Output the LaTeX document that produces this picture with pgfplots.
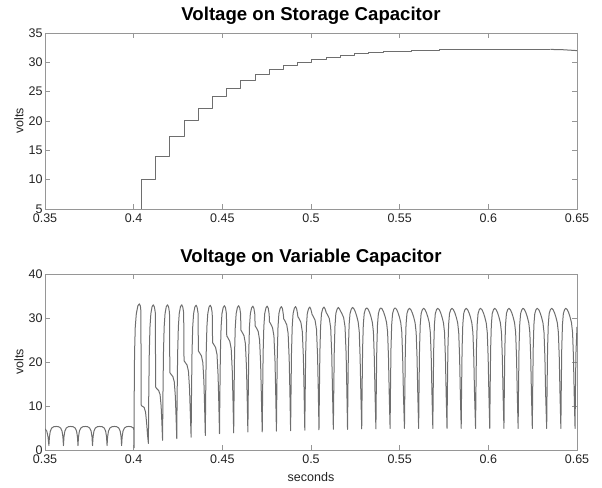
\documentclass[border=0pt]{standalone}
\usepackage{fontspec}
\setmainfont{Liberation Sans}
\usepackage{pgfplots}
\pgfplotsset{compat=1.18}
\definecolor{linec}{RGB}{110,110,110}
\definecolor{framec}{RGB}{150,150,150}
\definecolor{labc}{RGB}{35,35,35}
\begin{document}
\begin{tikzpicture}
\useasboundingbox (0pt,0pt) rectangle (602pt,487pt);
\pgfplotsset{
  mystyle/.style={
    scale only axis, width=532pt, height=176pt,
    xmin=0.35, xmax=0.65,
    xtick={0.35,0.4,0.45,0.5,0.55,0.6,0.65},
    xticklabels={0.35,0.4,0.45,0.5,0.55,0.6,0.65},
    tick align=inside, major tick length=5pt,
    axis line style={draw=framec, line width=0.9pt},
    every tick/.style={framec, line width=0.9pt},
    tick label style={font=\fontsize{12.5}{13}\selectfont, text=labc},
    xticklabel style={yshift=-1pt},
    yticklabel style={xshift=1pt},
    title style={font=\bfseries\fontsize{18.6}{19}\selectfont, at={(0.5,1)}, anchor=base, yshift=6pt},
    ylabel style={font=\fontsize{12.5}{13}\selectfont, text=labc, at={(axis description cs:-0.049,0.5)}, anchor=center},
    xlabel style={font=\fontsize{12.5}{13}\selectfont, text=labc, at={(axis description cs:0.5,0)}, anchor=center, yshift=-27pt},
  },
  myline/.style={linec, line width=1pt, line join=round, no markers},
}
\begin{axis}[mystyle, at={(45pt,278pt)}, anchor=south west,
  ymin=5, ymax=35,
  ytick={5,10,15,20,25,30,35}, yticklabels={5,10,15,20,25,30,35},
  title={Voltage on Storage Capacitor}, ylabel={volts}]
\addplot[myline, const plot mark left] coordinates {
(0.4000,0) (0.4043,10.0) (0.4123,14.0) (0.4203,17.3) (0.4284,20.0)
(0.4364,22.2) (0.4444,24.1) (0.4524,25.6) (0.4604,26.9) (0.4685,27.9)
(0.4765,28.8) (0.4845,29.5) (0.4925,30.0) (0.5005,30.5) (0.5086,30.9)
(0.5166,31.2) (0.5246,31.45) (0.5326,31.65) (0.5406,31.8) (0.5487,31.9)
(0.5567,32.0) (0.5647,32.07) (0.5727,32.12) (0.5807,32.15) (0.5888,32.18)
(0.5968,32.2) (0.6350,32.2)
};
\addplot[myline] coordinates {(0.6350,32.2) (0.6420,32.15) (0.6500,32.0)};
\end{axis}
\begin{axis}[mystyle, at={(45pt,37pt)}, anchor=south west,
  ymin=0, ymax=40,
  ytick={0,10,20,30,40}, yticklabels={0,10,20,30,40},
  title={Voltage on Variable Capacitor}, ylabel={volts}, xlabel={seconds}]
\addplot[myline] coordinates {
(0.3500,4.8) (0.3510,4.3) (0.3517,3.0) (0.3522,1.0)
(0.3525,3.0) (0.3530,4.3) (0.3538,5.0) (0.3550,5.3) (0.3563,5.35) (0.3576,5.3) (0.3588,5.0) (0.3596,4.3) (0.3601,3.0) (0.3604,1.0)
(0.3607,3.0) (0.3612,4.3) (0.3620,5.0) (0.3632,5.3) (0.3645,5.35) (0.3658,5.3) (0.3670,5.0) (0.3678,4.3) (0.3683,3.0) (0.3686,1.0)
(0.3689,3.0) (0.3694,4.3) (0.3702,5.0) (0.3714,5.3) (0.3727,5.35) (0.3740,5.3) (0.3752,5.0) (0.3760,4.3) (0.3765,3.0) (0.3768,1.0)
(0.3771,3.0) (0.3776,4.3) (0.3784,5.0) (0.3796,5.3) (0.3809,5.35) (0.3822,5.3) (0.3834,5.0) (0.3842,4.3) (0.3847,3.0) (0.3850,1.0)
(0.3853,3.0) (0.3858,4.3) (0.3866,5.0) (0.3878,5.3) (0.3891,5.35) (0.3904,5.3) (0.3916,5.0) (0.3924,4.3) (0.3929,3.0) (0.3932,1.0)
(0.3935,3.0) (0.3940,4.3) (0.3948,5.0) (0.3960,5.3) (0.3973,5.35) (0.3986,5.3) (0.3998,5.0) (0.4001,4.6)
(0.4002,0.5) (0.4003,12) (0.4005,22) (0.4009,28) (0.4015,31) (0.4024,32.8) (0.4032,33.2) (0.4038,32.7) (0.4041,31.5)
(0.4042,10.3) (0.4046,10.0) (0.4059,9.7) (0.4067,8.6) (0.4073,6.2) (0.4078,3.5) (0.4083,1.5)
(0.4085,12) (0.4088,22) (0.4092,28) (0.4097,31) (0.4104,32.6) (0.4111,33.0) (0.4117,32.5) (0.4122,31.2) (0.4124,14.3) (0.4129,14.0) (0.4141,13.5) (0.4149,12.6) (0.4155,9.9) (0.4159,6.3) (0.4163,2.2)
(0.4165,12) (0.4168,22) (0.4172,28) (0.4177,31) (0.4184,32.6) (0.4191,33.0) (0.4197,32.5) (0.4202,31.2) (0.4204,17.6) (0.4209,17.3) (0.4221,16.7) (0.4229,15.5) (0.4235,12.2) (0.4239,7.7) (0.4243,2.6)
(0.4245,12) (0.4248,22) (0.4252,28) (0.4257,31) (0.4264,32.6) (0.4271,33.0) (0.4277,32.5) (0.4282,31.2) (0.4284,20.3) (0.4289,20.0) (0.4301,19.3) (0.4309,17.9) (0.4315,14.0) (0.4319,8.9) (0.4324,2.9)
(0.4326,12) (0.4329,22) (0.4333,28) (0.4338,31) (0.4345,32.5) (0.4352,32.9) (0.4358,32.4) (0.4363,31.1) (0.4365,22.5) (0.4370,22.2) (0.4382,21.4) (0.4390,19.9) (0.4396,15.6) (0.4400,9.9) (0.4404,3.3)
(0.4406,12) (0.4409,22) (0.4413,28) (0.4418,31) (0.4425,32.5) (0.4432,32.9) (0.4438,32.4) (0.4443,31.1) (0.4445,24.4) (0.4450,24.1) (0.4462,23.3) (0.4470,21.7) (0.4476,17.0) (0.4480,10.8) (0.4484,3.7)
(0.4486,12) (0.4489,22) (0.4493,28) (0.4498,31) (0.4505,32.4) (0.4512,32.8) (0.4518,32.3) (0.4523,31.0) (0.4525,25.9) (0.4530,25.6) (0.4542,24.7) (0.4550,23.0) (0.4556,18.0) (0.4560,11.5) (0.4564,3.9)
(0.4566,12) (0.4569,22) (0.4573,28) (0.4578,31) (0.4585,32.4) (0.4592,32.8) (0.4598,32.3) (0.4603,31.0) (0.4605,27.2) (0.4610,26.9) (0.4622,26.0) (0.4630,24.2) (0.4636,18.9) (0.4640,12.1) (0.4644,4.1)
(0.4646,12) (0.4649,22) (0.4653,28) (0.4658,31) (0.4665,32.3) (0.4672,32.7) (0.4678,32.2) (0.4683,30.9) (0.4685,28.2) (0.4690,27.9) (0.4702,27.0) (0.4710,25.0) (0.4716,19.6) (0.4720,12.4) (0.4725,4.1)
(0.4727,12) (0.4730,22) (0.4734,28) (0.4739,31) (0.4746,32.3) (0.4753,32.7) (0.4759,32.2) (0.4764,30.9) (0.4766,29.1) (0.4771,28.8) (0.4783,27.8) (0.4791,25.9) (0.4797,20.2) (0.4801,12.9) (0.4805,4.3)
(0.4807,12) (0.4810,22) (0.4814,28) (0.4819,31) (0.4826,32.2) (0.4833,32.6) (0.4839,32.1) (0.4844,30.8) (0.4846,29.8) (0.4851,29.5) (0.4863,28.5) (0.4871,26.5) (0.4877,20.7) (0.4881,13.2) (0.4885,4.4)
(0.4887,12) (0.4890,22) (0.4894,28) (0.4899,31) (0.4906,32.2) (0.4913,32.6) (0.4919,32.1) (0.4924,31.0) (0.4926,30.3) (0.4931,30.0) (0.4943,29.0) (0.4951,26.9) (0.4957,21.1) (0.4961,13.4) (0.4965,4.5)
(0.4967,12) (0.4970,22) (0.4974,28) (0.4979,31) (0.4986,32.1) (0.4993,32.5) (0.4999,32.0) (0.5004,31.2) (0.5006,30.8) (0.5011,30.5) (0.5023,29.5) (0.5031,27.4) (0.5037,21.4) (0.5041,13.7) (0.5045,4.6)
(0.5047,12) (0.5050,22) (0.5054,28) (0.5059,31) (0.5066,32.1) (0.5073,32.5) (0.5079,32.1) (0.5084,31.5) (0.5086,31.2) (0.5091,30.9) (0.5103,29.9) (0.5111,27.8) (0.5117,21.7) (0.5121,13.9) (0.5126,4.7)
(0.5128,12) (0.5131,22) (0.5135,28) (0.5140,31) (0.5147,32.0) (0.5154,32.4) (0.5160,32.1) (0.5165,31.7) (0.5167,31.5) (0.5172,31.2) (0.5184,30.1) (0.5192,28.0) (0.5198,21.9) (0.5202,14.0) (0.5206,4.7)
(0.5208,13) (0.5211,23) (0.5215,28.5) (0.5220,31) (0.5227,32.0) (0.5234,32.4) (0.5242,32.1) (0.5250,31.4) (0.5258,30.4) (0.5266,29.1) (0.5272,26.9) (0.5277,21) (0.5281,13) (0.5286,4.8)
(0.5288,13) (0.5291,23) (0.5295,28.5) (0.5300,31) (0.5307,32.0) (0.5314,32.3) (0.5322,32.0) (0.5330,31.3) (0.5338,30.3) (0.5346,29.0) (0.5352,26.8) (0.5357,21) (0.5361,13) (0.5366,4.8)
(0.5368,13) (0.5371,23) (0.5375,28.5) (0.5380,31) (0.5387,32.0) (0.5394,32.3) (0.5402,32.0) (0.5410,31.3) (0.5418,30.3) (0.5426,29.0) (0.5432,26.8) (0.5437,21) (0.5441,13) (0.5446,4.9)
(0.5448,13) (0.5451,23) (0.5455,28.5) (0.5460,31) (0.5467,32.0) (0.5474,32.3) (0.5482,32.0) (0.5490,31.3) (0.5498,30.3) (0.5506,29.0) (0.5512,26.8) (0.5517,21) (0.5521,13) (0.5527,4.9)
(0.5529,13) (0.5532,23) (0.5536,28.5) (0.5541,31) (0.5548,31.9) (0.5555,32.2) (0.5563,31.9) (0.5571,31.2) (0.5579,30.2) (0.5587,28.9) (0.5593,26.7) (0.5598,21) (0.5602,13) (0.5607,4.9)
(0.5609,13) (0.5612,23) (0.5616,28.5) (0.5621,31) (0.5628,31.9) (0.5635,32.2) (0.5643,31.9) (0.5651,31.2) (0.5659,30.2) (0.5667,28.9) (0.5673,26.7) (0.5678,21) (0.5682,13) (0.5687,4.9)
(0.5689,13) (0.5692,23) (0.5696,28.5) (0.5701,31) (0.5708,31.9) (0.5715,32.2) (0.5723,31.9) (0.5731,31.2) (0.5739,30.2) (0.5747,28.9) (0.5753,26.7) (0.5758,21) (0.5762,13) (0.5767,4.9)
(0.5769,13) (0.5772,23) (0.5776,28.5) (0.5781,31) (0.5788,31.9) (0.5795,32.2) (0.5803,31.9) (0.5811,31.2) (0.5819,30.2) (0.5827,28.9) (0.5833,26.7) (0.5838,21) (0.5842,13) (0.5847,4.9)
(0.5849,13) (0.5852,23) (0.5856,28.5) (0.5861,31) (0.5868,31.9) (0.5875,32.2) (0.5883,31.9) (0.5891,31.2) (0.5899,30.2) (0.5907,28.9) (0.5913,26.7) (0.5918,21) (0.5922,13) (0.5928,4.9)
(0.5930,13) (0.5933,23) (0.5937,28.5) (0.5942,31) (0.5949,31.9) (0.5956,32.2) (0.5964,31.9) (0.5972,31.2) (0.5980,30.2) (0.5988,28.9) (0.5994,26.7) (0.5999,21) (0.6003,13) (0.6008,4.9)
(0.6010,13) (0.6013,23) (0.6017,28.5) (0.6022,31) (0.6029,31.9) (0.6036,32.2) (0.6044,31.9) (0.6052,31.2) (0.6060,30.2) (0.6068,28.9) (0.6074,26.7) (0.6079,21) (0.6083,13) (0.6088,4.9)
(0.6090,13) (0.6093,23) (0.6097,28.5) (0.6102,31) (0.6109,31.9) (0.6116,32.2) (0.6124,31.9) (0.6132,31.2) (0.6140,30.2) (0.6148,28.9) (0.6154,26.7) (0.6159,21) (0.6163,13) (0.6168,4.9)
(0.6170,13) (0.6173,23) (0.6177,28.5) (0.6182,31) (0.6189,31.9) (0.6196,32.2) (0.6204,31.9) (0.6212,31.2) (0.6220,30.2) (0.6228,28.9) (0.6234,26.7) (0.6239,21) (0.6243,13) (0.6248,4.9)
(0.6250,13) (0.6253,23) (0.6257,28.5) (0.6262,31) (0.6269,31.9) (0.6276,32.2) (0.6284,31.9) (0.6292,31.2) (0.6300,30.2) (0.6308,28.9) (0.6314,26.7) (0.6319,21) (0.6323,13) (0.6329,4.9)
(0.6331,13) (0.6334,23) (0.6338,28.5) (0.6343,31) (0.6350,31.9) (0.6357,32.2) (0.6365,31.9) (0.6373,31.2) (0.6381,30.2) (0.6389,28.9) (0.6395,26.7) (0.6400,21) (0.6404,13) (0.6409,4.9)
(0.6411,13) (0.6414,23) (0.6418,28.5) (0.6423,31) (0.6430,31.9) (0.6437,32.2) (0.6445,31.9) (0.6453,31.2) (0.6461,30.2) (0.6469,28.9) (0.6475,26.7) (0.6480,21) (0.6484,13) (0.6489,4.9)
(0.6491,13) (0.6494,22) (0.6500,28)
};
\end{axis}
\end{tikzpicture}
\end{document}
